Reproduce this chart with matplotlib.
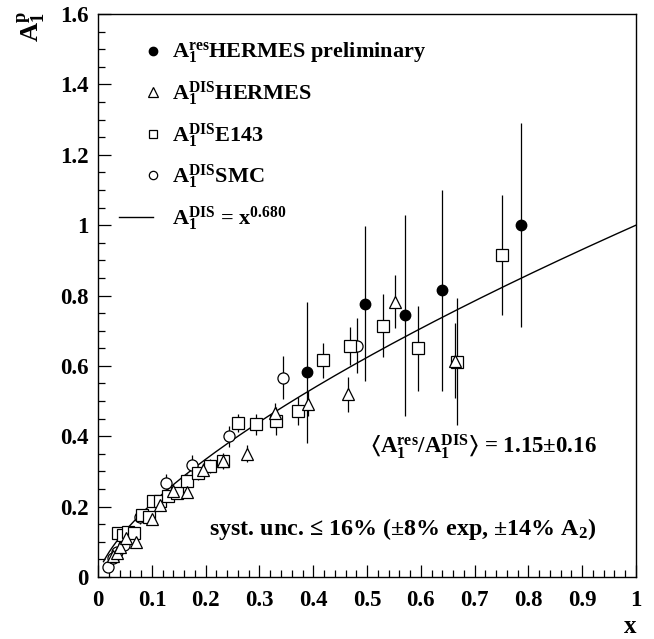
import matplotlib
matplotlib.use("Agg")
import matplotlib.pyplot as plt
import numpy as np
from matplotlib.lines import Line2D
from matplotlib.legend_handler import HandlerBase
from matplotlib.ticker import MultipleLocator

plt.rcParams['font.family'] = ['Liberation Serif', 'DejaVu Serif', 'DejaVu Sans']
plt.rcParams['font.weight'] = 'bold'
plt.rcParams['mathtext.fontset'] = 'custom'
plt.rcParams['mathtext.rm'] = 'Liberation Serif:bold'
plt.rcParams['mathtext.it'] = 'Liberation Serif:bold'
plt.rcParams['mathtext.bf'] = 'Liberation Serif:bold'
plt.rcParams['mathtext.fallback'] = 'stix'

# A1 resonance region, HERMES preliminary
res_x = [0.389, 0.496, 0.571, 0.640, 0.786]
res_y = [0.582, 0.777, 0.744, 0.815, 1.000]
res_err = [0.200, 0.220, 0.285, 0.286, 0.290]

# A1 DIS, HERMES
her_x = [0.028, 0.035, 0.041, 0.052, 0.070, 0.100, 0.115, 0.139, 0.165, 0.195,
         0.232, 0.276, 0.329, 0.391, 0.465, 0.552, 0.664]
her_y = [0.060, 0.068, 0.086, 0.110, 0.100, 0.165, 0.205, 0.245, 0.242, 0.304,
         0.330, 0.351, 0.465, 0.493, 0.519, 0.782, 0.615]
her_err = [0.012, 0.012, 0.012, 0.014, 0.015, 0.016, 0.016, 0.018, 0.018, 0.020,
           0.022, 0.025, 0.030, 0.035, 0.050, 0.075, 0.107]

# A1 DIS, E143
e143_x = [0.037, 0.047, 0.056, 0.066, 0.081, 0.094, 0.102, 0.115, 0.130, 0.146,
          0.165, 0.186, 0.208, 0.232, 0.261, 0.294, 0.331, 0.372, 0.419, 0.468,
          0.529, 0.594, 0.668, 0.750]
e143_y = [0.124, 0.119, 0.129, 0.124, 0.176, 0.171, 0.217, 0.217, 0.230, 0.238,
          0.274, 0.296, 0.315, 0.330, 0.438, 0.434, 0.443, 0.472, 0.616, 0.657,
          0.714, 0.650, 0.612, 0.915]
e143_err = [0.012, 0.012, 0.012, 0.012, 0.015, 0.015, 0.015, 0.015, 0.015, 0.015,
            0.018, 0.020, 0.020, 0.020, 0.025, 0.030, 0.040, 0.040, 0.050, 0.055,
            0.090, 0.120, 0.180, 0.170]

# A1 DIS, SMC
smc_x = [0.018, 0.028, 0.035, 0.049, 0.077, 0.126, 0.175, 0.243, 0.344, 0.482]
smc_y = [0.029, 0.055, 0.070, 0.090, 0.170, 0.268, 0.318, 0.400, 0.567, 0.658]
smc_err = [0.010, 0.012, 0.015, 0.018, 0.020, 0.025, 0.030, 0.030, 0.060, 0.078]

fit_power = 0.680

xtick_labels = ['0', '0.1', '0.2', '0.3', '0.4', '0.5', '0.6', '0.7', '0.8', '0.9', '1']
ytick_labels = ['0', '0.2', '0.4', '0.6', '0.8', '1', '1.2', '1.4', '1.6']


class FitLineHandler(HandlerBase):
    # legend line drawn mostly to the left of the marker column
    def create_artists(self, legend, orig_handle, xdescent, ydescent, width, height,
                       fontsize, trans):
        y = height / 2 - ydescent
        ln = Line2D([-0.8 * width - xdescent, 0.5 * width - xdescent], [y, y],
                    color='black', lw=1.0)
        ln.set_transform(trans)
        return [ln]


fig = plt.figure(figsize=(6.54, 6.39), dpi=100)
ax = fig.add_axes([0.150, 0.097, 0.8225, 0.881])

ebar = dict(linestyle='none', ecolor='black', elinewidth=0.9, capsize=0)
ax.errorbar(smc_x, smc_y, yerr=smc_err, marker='o', ms=8, mfc='white',
            mec='black', mew=0.9, **ebar)
ax.errorbar(e143_x, e143_y, yerr=e143_err, marker='s', ms=8, mfc='white',
            mec='black', mew=0.9, **ebar)
ax.errorbar(her_x, her_y, yerr=her_err, marker='^', ms=8.5, mfc='white',
            mec='black', mew=0.9, **ebar)
ax.errorbar(res_x, res_y, yerr=res_err, marker='o', ms=7.5, mfc='black',
            mec='black', **ebar)

xf = np.linspace(0.01, 1.0, 300)
fit_line, = ax.plot(xf, xf ** fit_power, color='black', lw=1.0)

ax.set_xlim(0, 1)
ax.set_ylim(0, 1.6)
ax.set_xticks(np.arange(0, 1.01, 0.1))
ax.set_xticklabels(xtick_labels)
ax.set_yticks(np.arange(0, 1.61, 0.2))
ax.set_yticklabels(ytick_labels)
ax.xaxis.set_minor_locator(MultipleLocator(0.02))
ax.yaxis.set_minor_locator(MultipleLocator(0.05))
ax.tick_params(which='both', direction='in', top=False, right=False, labelsize=16.5)
ax.tick_params(which='major', length=9, width=0.9)
ax.tick_params(which='minor', length=5, width=0.9)
ax.tick_params(axis='x', pad=9)
ax.tick_params(axis='y', pad=7)
for s in ax.spines.values():
    s.set_linewidth(1.0)

ax.text(-0.123, 1.005, r'A$_1^p$', rotation=90, fontsize=19, ha='center', va='top',
        transform=ax.transAxes)
ax.text(1.0, -0.099, 'x', fontsize=18, ha='right', va='baseline', transform=ax.transAxes)

handles = [
    Line2D([], [], ls='none', marker='o', ms=6, mfc='black', mec='black'),
    Line2D([], [], ls='none', marker='^', ms=6.5, mfc='white', mec='black', mew=0.9),
    Line2D([], [], ls='none', marker='s', ms=6, mfc='white', mec='black', mew=0.9),
    Line2D([], [], ls='none', marker='o', ms=6, mfc='white', mec='black', mew=0.9),
    fit_line,
]
labels = [r'A$_1^{res}$HERMES preliminary', r'A$_1^{DIS}$HERMES', r'A$_1^{DIS}$E143',
          r'A$_1^{DIS}$SMC', r'A$_1^{DIS}$ = x$^{0.680}$']
ax.legend(handles, labels, loc='upper left', bbox_to_anchor=(0.061, 0.968), frameon=False,
          fontsize=16, handlelength=1.17, handletextpad=0.3, labelspacing=0.585,
          borderaxespad=0.0, borderpad=0.4, handler_map={fit_line: FitLineHandler()})

ax.text(0.716, 0.352, r'$⟨$A$_1^{res}$/A$_1^{DIS}$$⟩$ = 1.15±0.16',
        fontsize=16.5, ha='center', va='baseline')
ax.text(0.566, 0.119, r'syst. unc. ≤ 16% (±8% exp, ±14% A$_2$)',
        fontsize=17.3, ha='center', va='baseline')

fig.savefig('out.png', dpi=100)
